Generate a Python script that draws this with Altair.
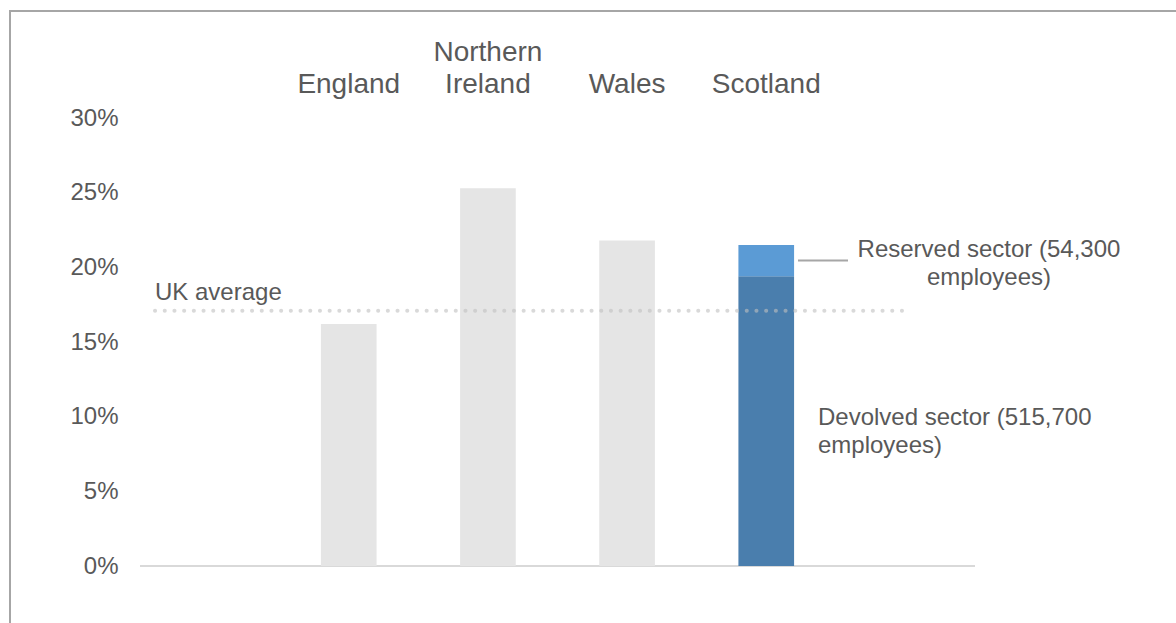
import altair as alt
import pandas as pd

# ---- data ----
countries = ["England", "Northern Ireland", "Wales", "Scotland"]
x_domain = [" "] + countries + ["  "]        # empty slots either side
label_lower = ["England", "Ireland", "Wales", "Scotland"]
label_upper = ["", "Northern", "", ""]
other_countries = ["England", "Northern Ireland", "Wales"]
other_values = [16.2, 25.3, 21.8]          # % of employment in public sector
scotland_devolved = 19.4
scotland_reserved = 2.1
uk_average = 17.1
y_ticks = [0, 5, 10, 15, 20, 25, 30]
reserved_label = "Reserved sector (54,300\nemployees)"
devolved_label = "Devolved sector (515,700\nemployees)"
uk_label = "UK average"

rows = []
for c, v in zip(other_countries, other_values):
    rows.append({"country": c, "sector": "Other", "value": v, "order": 0})
rows.append({"country": "Scotland", "sector": "Devolved", "value": scotland_devolved, "order": 0})
rows.append({"country": "Scotland", "sector": "Reserved", "value": scotland_reserved, "order": 1})
df = pd.DataFrame(rows)

labels_df = pd.DataFrame({"country": countries, "lower": label_lower, "upper": label_upper})

FONT = "Liberation Sans"
TXT = "#595959"

x_enc = alt.X(
    "country:N",
    sort=x_domain,
    scale=alt.Scale(domain=x_domain, paddingInner=0.6, paddingOuter=0.3),
    axis=None,
)

bars = alt.Chart(df).mark_bar().encode(
    x=x_enc,
    y=alt.Y(
        "value:Q",
        stack="zero",
        scale=alt.Scale(domain=[0, 30], nice=False),
        axis=alt.Axis(
            values=y_ticks, title=None, domain=False, ticks=False, tickSize=0,
            grid=False, labelExpr="datum.value + '%'", labelFontSize=24,
            labelPadding=22, labelColor=TXT, labelFont=FONT,
        ),
    ),
    color=alt.Color(
        "sector:N",
        scale=alt.Scale(domain=["Other", "Devolved", "Reserved"],
                        range=["#e5e5e5", "#4a7ead", "#5b9bd5"]),
        legend=None,
    ),
    order=alt.Order("order:Q"),
)

cat_lower = alt.Chart(labels_df).mark_text(
    align="center", baseline="alphabetic", fontSize=28, font=FONT, color=TXT
).encode(x=x_enc, y=alt.value(-25), text="lower:N")

cat_upper = alt.Chart(labels_df).transform_filter("datum.upper != ''").mark_text(
    align="center", baseline="alphabetic", fontSize=28, font=FONT, color=TXT
).encode(x=x_enc, y=alt.value(-57), text="upper:N")

base = alt.Chart(pd.DataFrame({"a": [0]}))

baseline = base.mark_rule(color="#d9d9d9", strokeWidth=2).encode(
    x=alt.value(0), x2=alt.value(835), y=alt.datum(0)
)

uk_line = base.mark_rule(
    color="#bfbfbf", opacity=0.6, strokeWidth=4, strokeDash=[0.1, 9.6], strokeCap="round"
).encode(x=alt.value(15), x2=alt.value(765), y=alt.datum(uk_average))

uk_text = base.mark_text(
    text=uk_label, align="left", baseline="alphabetic", dy=-11,
    fontSize=24, font=FONT, color=TXT
).encode(x=alt.value(15), y=alt.datum(uk_average))

res_mid = scotland_devolved + scotland_reserved / 2
leader = base.mark_rule(color="#a6a6a6", strokeWidth=2).encode(
    x=alt.value(658), x2=alt.value(708), y=alt.datum(res_mid)
)
res_text = base.mark_text(
    text=reserved_label, lineBreak="\n", lineHeight=28, align="center",
    baseline="middle", fontSize=24, font=FONT, color=TXT, dy=-11
).encode(x=alt.value(849), y=alt.datum(res_mid))

dev_text = base.mark_text(
    text=devolved_label, lineBreak="\n", lineHeight=28, align="left",
    baseline="middle", fontSize=24, font=FONT, color=TXT, dy=-12
).encode(x=alt.value(678), y=alt.datum(scotland_devolved / 2 - 0.6))

frame_top = base.mark_rule(color="#a6a6a6", strokeWidth=2).encode(
    x=alt.value(-130), x2=alt.value(1040), y=alt.value(-107)
)
frame_left = base.mark_rule(color="#a6a6a6", strokeWidth=2).encode(
    x=alt.value(-130), y=alt.value(-108), y2=alt.value(510)
)

chart = alt.layer(
    frame_top, frame_left, baseline, bars, cat_lower, cat_upper,
    uk_line, uk_text, leader, res_text, dev_text
).properties(
    width=835, height=448,
    autosize=alt.AutoSizeParams(type="none"),
    padding={"left": 140, "top": 118, "right": 201, "bottom": 57},
    background="white",
).configure_view(stroke=None)

chart.save("out.html", embed_options={"renderer": "svg", "actions": False})
